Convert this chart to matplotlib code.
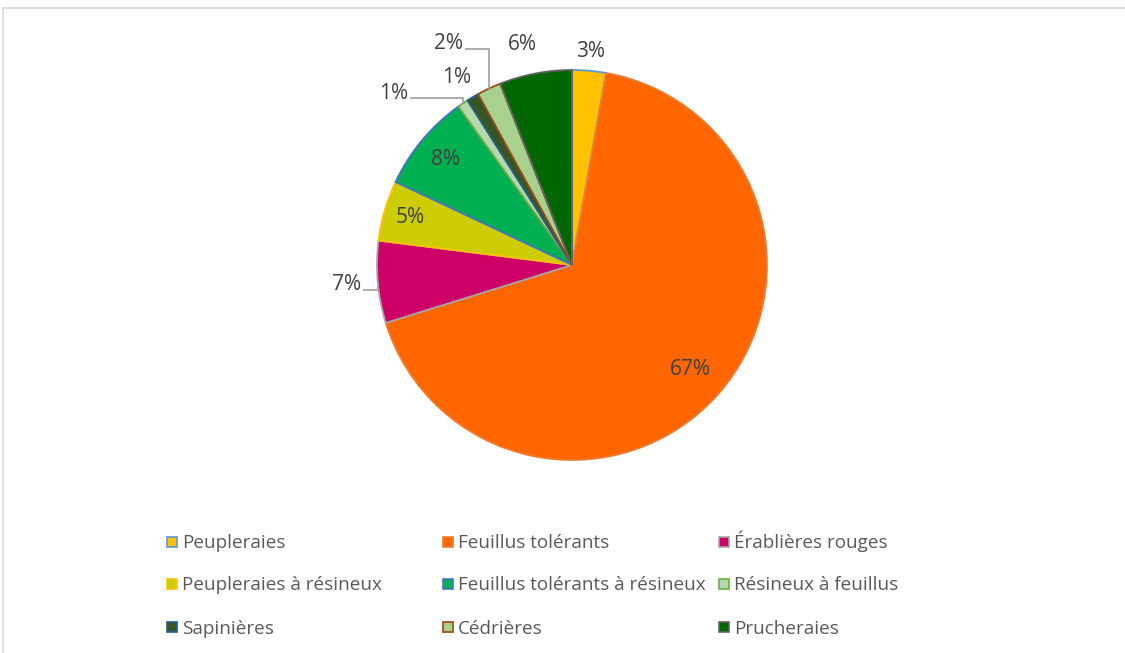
import numpy as np
import matplotlib
matplotlib.use("Agg")
import matplotlib.pyplot as plt
from matplotlib.patches import Rectangle
from matplotlib.lines import Line2D

plt.rcParams['font.family'] = ['Open Sans', 'DejaVu Sans']

# données (en %)
categories = ["Peupleraies", "Feuillus tolérants", "Érablières rouges",
              "Peupleraies à résineux", "Feuillus tolérants à résineux",
              "Résineux à feuillus", "Sapinières", "Cédrières", "Prucheraies"]
values = [2.8, 67.4, 6.8, 5.0, 8.1, 0.9, 1.0, 2.0, 6.0]

fills = ["#FFC000", "#FF6600", "#CC0066", "#CCCC00", "#00B050",
         "#B5D9A9", "#375623", "#A9D18E", "#006600"]
edges = ["#5B9BD5", "#ED7D31", "#A5A5A5", "#FFC000", "#4472C4",
         "#70AD47", "#255E91", "#9E480E", "#636363"]

# placement des étiquettes : (rayon, décalage d'angle), leader ou non
label_r = [1.10, 0.81, 1.16, 0.865, 0.845, 1.27, 1.13, 1.30, 1.16]
label_dt = [0, 0, 0, 0, 0, 12, 1, 4, 2]
leader = [False, False, True, False, False, True, False, True, False]

W, H = 1125, 653
cx, cy, R = 572, 265, 195  # centre et rayon en pixels

fig = plt.figure(figsize=(W / 100, H / 100), dpi=100)
ax = fig.add_axes([0, 0, 1, 1])
wedges, _ = ax.pie(values, colors=fills, startangle=90, counterclock=False,
                   wedgeprops=dict(linewidth=1.3))
for w, ec in zip(wedges, edges):
    w.set_edgecolor(ec)
ax.set_xlim(-cx / R, (W - cx) / R)
ax.set_ylim(-(H - cy) / R, cy / R)
ax.set_aspect('auto')
ax.set_axis_off()

cum = np.cumsum([0] + values[:-1])
texts = []
for i, v in enumerate(values):
    mid = 90 - 3.6 * (cum[i] + v / 2)
    a = np.radians(mid + label_dt[i])
    t = ax.text(label_r[i] * np.cos(a), label_r[i] * np.sin(a), f"{round(v)}%",
                ha='center', va='center', fontsize=15, color="#404040")
    texts.append((t, np.radians(mid)))

# lignes de rappel
fig.canvas.draw()
inv = ax.transData.inverted()
for (t, mid), lead in zip(texts, leader):
    if not lead:
        continue
    bb = t.get_window_extent()
    x0, y0 = inv.transform((bb.x1 + 2, (bb.y0 + bb.y1) / 2 - 5))
    ex, ey = np.cos(mid), np.sin(mid)
    ax.plot([x0, ex, ex], [y0, y0, ey], color="#A6A6A6", lw=1.3,
            solid_capstyle='butt')

# légende en 3 colonnes (ordre par ligne)
col_x = [167, 443, 719]
row_y = [542, 584, 627]
for i, name in enumerate(categories):
    x = col_x[i % 3]
    y = row_y[i // 3]
    fig.add_artist(Rectangle(((x) / W, 1 - (y + 5) / H), 10 / W, 10 / H,
                             transform=fig.transFigure, facecolor=fills[i],
                             edgecolor=edges[i], linewidth=1.2))
    fig.text((x + 15) / W, 1 - (y + 6.5) / H, name, ha='left', va='baseline',
             fontsize=13.6, color="#595959")

# cadre
fig.add_artist(Line2D([2.5 / W, 1], [1 - 7.5 / H, 1 - 7.5 / H], color="#D9D9D9", lw=1.2))
fig.add_artist(Line2D([2.5 / W, 2.5 / W], [0, 1 - 7.5 / H], color="#D9D9D9", lw=1.2))

fig.savefig("out.png", dpi=100, facecolor="white")
